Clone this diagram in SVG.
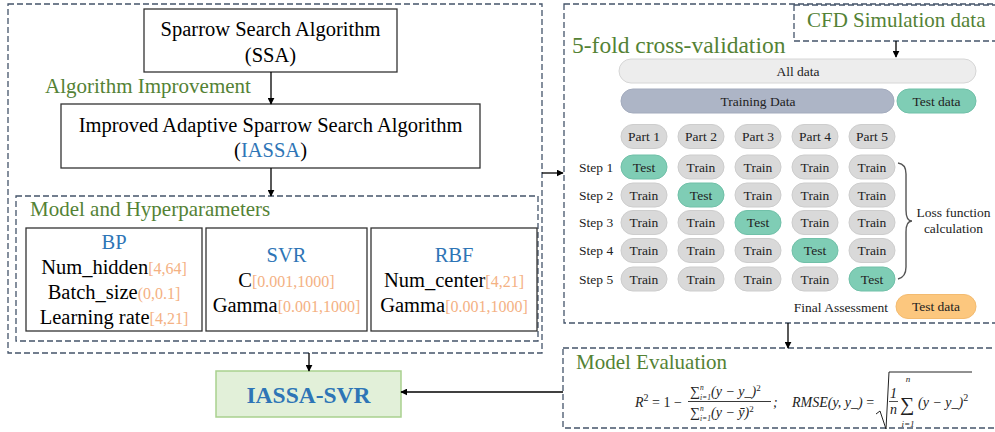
<svg xmlns="http://www.w3.org/2000/svg" width="995" height="432" viewBox="0 0 995 432">
<defs>
<marker id="ah" viewBox="0 0 10 10" refX="9" refY="5" markerWidth="7" markerHeight="7" markerUnits="userSpaceOnUse" orient="auto"><path d="M0,0 L10,5 L0,10 z" fill="#000"/></marker>
<style>
text{font-family:"Liberation Serif","Times New Roman",serif;}
.dash{fill:none;stroke:#44546a;stroke-width:1.3;stroke-dasharray:6 3;}
.box{fill:#fff;stroke:#333;stroke-width:1.3;}
.t20{font-size:20.5px;fill:#000;text-anchor:middle;}
.blue{fill:#2e75b6;}
.rng{font-size:16px;fill:#f4b183;}
.green{fill:#548235;font-size:21px;}
.conn{stroke:#000;stroke-width:1.3;fill:none;marker-end:url(#ah);}
.gp{fill:#d9d9d9;stroke:#cdcdcd;stroke-width:1;}
.tp{fill:#7fcdb5;stroke:#70c0a8;stroke-width:1;}
.pt{font-size:13.5px;text-anchor:middle;fill:#222;}
.lbl{font-size:13.5px;fill:#222;}
.math{font-size:14px;fill:#222;font-style:italic;}
.mi{font-size:7.5px;fill:#222;font-style:italic;}
.up{font-size:9px;fill:#222;}
</style>
</defs>

<g id="left-panel">
<rect class="dash" x="8" y="4" width="534" height="349"/>
<text class="green" x="45" y="93">Algorithm Improvement</text>
</g>

<g id="ssa">
<rect class="box" x="144" y="9" width="253" height="63"/>
<text class="t20" x="270.5" y="36">Sparrow Search Algorithm</text>
<text class="t20" x="270.5" y="62">(SSA)</text>
</g>

<g id="iassa">
<rect class="box" x="61" y="104" width="419" height="64"/>
<text class="t20" x="270.5" y="132">Improved Adaptive Sparrow Search Algorithm</text>
<text class="t20" x="270.5" y="157">(<tspan class="blue">IASSA</tspan>)</text>
</g>

<g id="models">
<rect class="dash" x="16" y="196" width="522" height="145"/>
<text class="green" x="30" y="216">Model and Hyperparameters</text>
</g>

<g id="bp">
<rect class="box" x="26" y="228" width="176" height="103"/>
<text class="t20 blue" x="114" y="249">BP</text>
<text class="t20" x="114" y="274">Num_hidden<tspan class="rng">[4,64]</tspan></text>
<text class="t20" x="114" y="299">Batch_size<tspan class="rng">(0,0.1]</tspan></text>
<text class="t20" x="114" y="324">Learning rate<tspan class="rng">[4,21]</tspan></text>
</g>

<g id="svr">
<rect class="box" x="206" y="228" width="161" height="103"/>
<text class="t20 blue" x="286.5" y="262">SVR</text>
<text class="t20" x="286.5" y="287">C<tspan class="rng">[0.001,1000]</tspan></text>
<text class="t20" x="286.5" y="312">Gamma<tspan class="rng">[0.001,1000]</tspan></text>
</g>

<g id="rbf">
<rect class="box" x="371" y="228" width="166" height="103"/>
<text class="t20 blue" x="454" y="262">RBF</text>
<text class="t20" x="454" y="287">Num_center<tspan class="rng">[4,21]</tspan></text>
<text class="t20" x="454" y="312">Gamma<tspan class="rng">[0.001,1000]</tspan></text>
</g>

<g id="iassa-svr">
<rect x="216" y="371" width="185" height="46" fill="#e2f0d9" stroke="#a9d18e" stroke-width="1.5"/>
<text x="308.5" y="403" font-size="23.5" font-weight="bold" fill="#2e75b6" text-anchor="middle">IASSA-SVR</text>
</g>

<g id="cv-panel">
<rect class="dash" x="564" y="4" width="440" height="319"/>
<text x="572" y="53" font-size="23.5" fill="#548235">5-fold cross-validation</text>
</g>

<g id="cfd">
<rect class="dash" x="794" y="5" width="210" height="36"/>
<text class="green" x="807" y="27">CFD Simulation data</text>
</g>

<g id="data-bars">
<rect x="619" y="59" width="357" height="24" rx="12" fill="#ededed" stroke="#d6d6d6"/>
<text class="pt" x="798" y="75.5">All data</text>
<rect x="621" y="89" width="273" height="24" rx="12" fill="#adb5c6" stroke="#a3abbd"/>
<text class="pt" x="758" y="105.5">Training Data</text>
<rect class="tp" x="897" y="89" width="79" height="24" rx="12"/>
<text class="pt" x="936.5" y="105.5">Test data</text>
</g>

<g id="parts">
<rect class="gp" x="621" y="124.5" width="46" height="24" rx="12"/><text class="pt" x="644" y="141">Part 1</text>
<rect class="gp" x="678" y="124.5" width="46" height="24" rx="12"/><text class="pt" x="701" y="141">Part 2</text>
<rect class="gp" x="735" y="124.5" width="46" height="24" rx="12"/><text class="pt" x="758" y="141">Part 3</text>
<rect class="gp" x="792" y="124.5" width="46" height="24" rx="12"/><text class="pt" x="815" y="141">Part 4</text>
<rect class="gp" x="849" y="124.5" width="46" height="24" rx="12"/><text class="pt" x="872" y="141">Part 5</text>
</g>

<g id="step1">
<text class="lbl" x="579" y="171.5">Step 1</text>
<rect class="tp" x="621" y="155" width="46" height="24" rx="12"/><text class="pt" x="644" y="171.5">Test</text>
<rect class="gp" x="678" y="155" width="46" height="24" rx="12"/><text class="pt" x="701" y="171.5">Train</text>
<rect class="gp" x="735" y="155" width="46" height="24" rx="12"/><text class="pt" x="758" y="171.5">Train</text>
<rect class="gp" x="792" y="155" width="46" height="24" rx="12"/><text class="pt" x="815" y="171.5">Train</text>
<rect class="gp" x="849" y="155" width="46" height="24" rx="12"/><text class="pt" x="872" y="171.5">Train</text>
</g>
<g id="step2">
<text class="lbl" x="579" y="199.5">Step 2</text>
<rect class="gp" x="621" y="183" width="46" height="24" rx="12"/><text class="pt" x="644" y="199.5">Train</text>
<rect class="tp" x="678" y="183" width="46" height="24" rx="12"/><text class="pt" x="701" y="199.5">Test</text>
<rect class="gp" x="735" y="183" width="46" height="24" rx="12"/><text class="pt" x="758" y="199.5">Train</text>
<rect class="gp" x="792" y="183" width="46" height="24" rx="12"/><text class="pt" x="815" y="199.5">Train</text>
<rect class="gp" x="849" y="183" width="46" height="24" rx="12"/><text class="pt" x="872" y="199.5">Train</text>
</g>
<g id="step3">
<text class="lbl" x="579" y="227">Step 3</text>
<rect class="gp" x="621" y="210.5" width="46" height="24" rx="12"/><text class="pt" x="644" y="227">Train</text>
<rect class="gp" x="678" y="210.5" width="46" height="24" rx="12"/><text class="pt" x="701" y="227">Train</text>
<rect class="tp" x="735" y="210.5" width="46" height="24" rx="12"/><text class="pt" x="758" y="227">Test</text>
<rect class="gp" x="792" y="210.5" width="46" height="24" rx="12"/><text class="pt" x="815" y="227">Train</text>
<rect class="gp" x="849" y="210.5" width="46" height="24" rx="12"/><text class="pt" x="872" y="227">Train</text>
</g>
<g id="step4">
<text class="lbl" x="579" y="255">Step 4</text>
<rect class="gp" x="621" y="238.5" width="46" height="24" rx="12"/><text class="pt" x="644" y="255">Train</text>
<rect class="gp" x="678" y="238.5" width="46" height="24" rx="12"/><text class="pt" x="701" y="255">Train</text>
<rect class="gp" x="735" y="238.5" width="46" height="24" rx="12"/><text class="pt" x="758" y="255">Train</text>
<rect class="tp" x="792" y="238.5" width="46" height="24" rx="12"/><text class="pt" x="815" y="255">Test</text>
<rect class="gp" x="849" y="238.5" width="46" height="24" rx="12"/><text class="pt" x="872" y="255">Train</text>
</g>
<g id="step5">
<text class="lbl" x="579" y="283.5">Step 5</text>
<rect class="gp" x="621" y="267" width="46" height="24" rx="12"/><text class="pt" x="644" y="283.5">Train</text>
<rect class="gp" x="678" y="267" width="46" height="24" rx="12"/><text class="pt" x="701" y="283.5">Train</text>
<rect class="gp" x="735" y="267" width="46" height="24" rx="12"/><text class="pt" x="758" y="283.5">Train</text>
<rect class="gp" x="792" y="267" width="46" height="24" rx="12"/><text class="pt" x="815" y="283.5">Train</text>
<rect class="tp" x="849" y="267" width="46" height="24" rx="12"/><text class="pt" x="872" y="283.5">Test</text>
</g>

<g id="loss">
<path d="M898,163 Q906,164 906,174 V210 Q906,221 912,221 Q906,221 906,232 V267 Q906,277 898,279" fill="none" stroke="#555" stroke-width="1.4"/>
<text class="pt" x="953.5" y="217">Loss function</text>
<text class="pt" x="953.5" y="233">calculation</text>
</g>

<g id="final">
<text class="lbl" x="888" y="312" text-anchor="end">Final Assessment</text>
<rect x="896" y="294.5" width="80" height="24" rx="12" fill="#fcc77e" stroke="#f3bb70"/>
<text class="pt" x="936" y="311">Test data</text>
</g>

<g id="evaluation">
<rect class="dash" x="563" y="348" width="441" height="80"/>
<text class="green" x="576" y="369">Model Evaluation</text>
<text class="math" x="635" y="407">R<tspan font-size="10" dy="-6" font-style="normal">2</tspan><tspan dy="6" font-style="normal"> = 1 −</tspan></text>
<line x1="688" y1="401.5" x2="771" y2="401.5" stroke="#222" stroke-width="0.9"/>
<text class="math" x="690" y="396" font-style="normal">∑</text>
<text class="mi" x="700" y="389.5">n</text>
<text class="mi" x="700" y="399.5">i=1</text>
<text class="math" x="711" y="396">(y − y_)<tspan font-size="9" dy="-5" font-style="normal">2</tspan></text>
<text class="math" x="690" y="417" font-style="normal">∑</text>
<text class="mi" x="700" y="410.5">n</text>
<text class="mi" x="700" y="420.5">i=1</text>
<text class="math" x="711" y="417">(y − ȳ)<tspan font-size="9" dy="-5" font-style="normal">2</tspan></text>
<text class="math" x="773" y="407" font-style="normal">;</text>
<text class="math" x="792" y="407">RMSE(y, y_) <tspan font-style="normal">=</tspan></text>
<path d="M876,414 L880,411 L886,429 L889,372 L972,372" fill="none" stroke="#222" stroke-width="1"/>
<text class="math" x="890" y="398" font-style="normal">1</text>
<line x1="889" y1="401.5" x2="898" y2="401.5" stroke="#222" stroke-width="0.8"/>
<text class="math" x="890" y="414">n</text>
<text x="900" y="411" font-size="20" fill="#222">∑</text>
<text class="up" x="908" y="382" text-anchor="middle" font-style="italic">n</text>
<text class="up" x="908" y="427" text-anchor="middle" font-style="italic">i=1</text>
<text class="math" x="918" y="407">(y − y_)<tspan font-size="10" dy="-6" font-style="normal">2</tspan></text>
</g>

<g id="connectors">
<line class="conn" x1="271" y1="72" x2="271" y2="104"/>
<line class="conn" x1="271" y1="168" x2="271" y2="196"/>
<line class="conn" x1="542" y1="173" x2="563" y2="173"/>
<line class="conn" x1="896" y1="41" x2="896" y2="57"/>
<line class="conn" x1="788" y1="323" x2="788" y2="348"/>
<line class="conn" x1="309" y1="353" x2="309" y2="371"/>
<line class="conn" x1="563" y1="392" x2="401" y2="392"/>
</g>
</svg>
